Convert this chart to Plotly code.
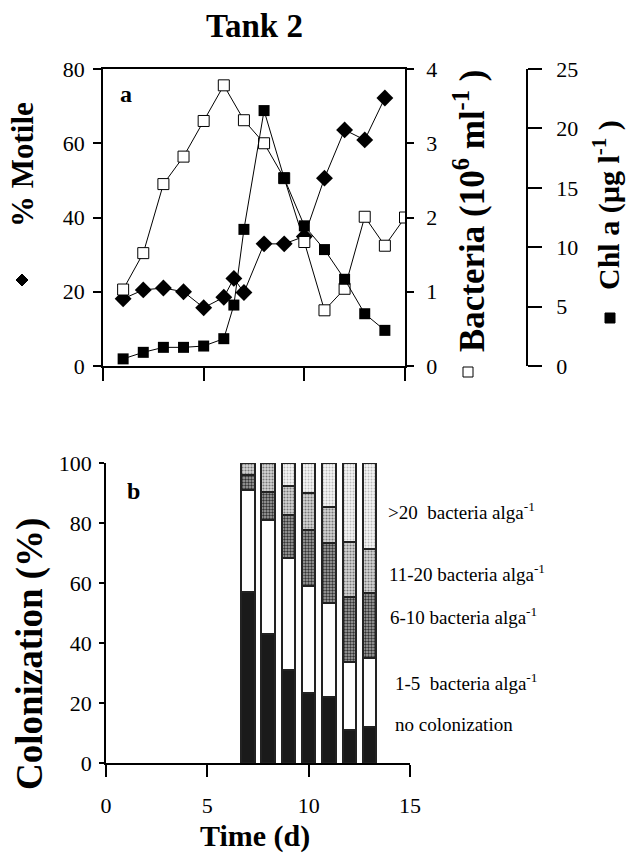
import plotly.graph_objects as go

W, H = 626, 854

# ---------------- data: panel a ----------------
days_motile = [1, 2, 3, 4, 5, 6, 6.5, 7, 8, 9, 10, 11, 12, 13, 14]
motile = [18.1, 20.5, 21.0, 20.0, 15.7, 18.5, 23.6, 19.8, 32.9, 32.9, 34.9, 50.6, 63.6, 60.9, 72.2]

days_bact = [1, 2, 3, 4, 5, 6, 7, 8, 9, 10, 11, 12, 13, 14, 15]
bacteria = [1.03, 1.52, 2.45, 2.82, 3.30, 3.78, 3.31, 3.00, 2.53, 1.67, 0.75, 1.04, 2.01, 1.62, 2.00]

days_chl = [1, 2, 3, 4, 5, 6, 6.5, 7, 8, 9, 10, 11, 12, 13, 14]
chl = [0.6, 1.15, 1.57, 1.57, 1.68, 2.3, 5.13, 11.5, 21.5, 15.8, 11.8, 9.8, 7.3, 4.4, 3.0]

# ---------------- data: panel b ----------------
col_days = [7, 8, 9, 10, 11, 12, 13]
no_col = [57, 43, 31, 23.5, 22, 11, 12]
b1_5 = [34, 38, 37.5, 35.5, 31.4, 22.8, 23]
b6_10 = [5, 9.4, 14.2, 18.7, 19.8, 21.6, 21.6]
b11_20 = [4, 9.6, 9.5, 12.2, 12, 18.4, 14.6]
b20 = [0, 0, 7.8, 10.1, 14.8, 26.2, 28.8]

motile_ticks = [0, 20, 40, 60, 80]
bact_ticks = [0, 1, 2, 3, 4]
chl_ticks = [0, 5, 10, 15, 20, 25]
col_ticks = [0, 20, 40, 60, 80, 100]
time_ticks = [0, 5, 10, 15]

FONT = "Liberation Serif"


def px(x):
    return x / W


def py(y):
    return 1 - y / H


fig = go.Figure()

# panel a traces
fig.add_trace(go.Scatter(x=days_motile, y=motile, mode="lines+markers",
                         line=dict(color="black", width=1),
                         marker=dict(symbol="diamond", size=13, color="black"),
                         xaxis="x", yaxis="y", showlegend=False))
fig.add_trace(go.Scatter(x=days_bact, y=bacteria, mode="lines+markers",
                         line=dict(color="black", width=1),
                         marker=dict(symbol="square", size=11, color="white",
                                     line=dict(color="black", width=1)),
                         xaxis="x", yaxis="y2", showlegend=False))
fig.add_trace(go.Scatter(x=days_chl, y=chl, mode="lines+markers",
                         line=dict(color="black", width=1),
                         marker=dict(symbol="square", size=11, color="black"),
                         xaxis="x", yaxis="y3", showlegend=False))

# panel b traces
bar_specs = [
    ("no colonization", no_col, dict(color="#1a1a1a")),
    ("1-5", b1_5, dict(color="white")),
    ("6-10", b6_10, dict(color="#9a9a9a",
                         pattern=dict(shape=".", fgcolor="#333333", bgcolor="#aaaaaa",
                                      size=3, solidity=0.5))),
    ("11-20", b11_20, dict(color="#c8c8c8",
                           pattern=dict(shape=".", fgcolor="#777777", bgcolor="#d6d6d6",
                                        size=3, solidity=0.4))),
    (">20", b20, dict(color="#eeeeee",
                      pattern=dict(shape=".", fgcolor="#bbbbbb", bgcolor="#f6f6f6",
                                   size=3, solidity=0.35))),
]
for name, vals, mk in bar_specs:
    mk = dict(mk)
    mk["line"] = dict(color="#222222", width=2)
    fig.add_trace(go.Bar(x=col_days, y=vals, name=name, width=0.66, marker=mk,
                         xaxis="x2", yaxis="y4", showlegend=False))

tickfont = dict(family=FONT, size=22, color="black")
axis_common = dict(showgrid=False, zeroline=False, showline=True, linecolor="black",
                   linewidth=1.5, ticks="outside", tickcolor="black", tickwidth=1.5,
                   tickfont=tickfont, automargin=False)

fig.update_layout(
    template="none",
    width=W, height=H,
    margin=dict(l=0, r=0, t=0, b=0, pad=0, autoexpand=False),
    paper_bgcolor="white", plot_bgcolor="white",
    barmode="stack", bargap=0,
    xaxis=dict(domain=[px(103), px(405)], range=[0, 15], tickvals=time_ticks,
               showticklabels=False, ticklen=13, mirror=True, anchor="y", **axis_common),
    yaxis=dict(domain=[py(366), py(69)], range=[0, 80], tickvals=motile_ticks,
               ticklen=8, ticklabelstandoff=4, anchor="x", **axis_common),
    yaxis2=dict(range=[0, 4], tickvals=bact_ticks, overlaying="y", side="right",
                anchor="x", ticklen=7, ticklabelstandoff=8, **axis_common),
    yaxis3=dict(range=[0, 25], tickvals=chl_ticks, overlaying="y", side="right",
                anchor="free", position=px(527), ticklen=14, ticklabelstandoff=10,
                **axis_common),
    xaxis2=dict(domain=[px(106), px(410)], range=[0, 15], tickvals=time_ticks,
                ticklen=12, ticklabelstandoff=10, anchor="y4", **axis_common),
    yaxis4=dict(domain=[py(763), py(463)], range=[0, 100], tickvals=col_ticks,
                ticklen=5, ticklabelstandoff=3, anchor="x2", **axis_common),
)


def ann(text, x, y, size, bold=False, angle=0, xanchor="center"):
    if bold:
        text = "<b>" + text + "</b>"
    fig.add_annotation(text=text, x=px(x), y=py(y), xref="paper", yref="paper",
                       showarrow=False, textangle=angle, xanchor=xanchor, yanchor="middle",
                       font=dict(family=FONT, size=size, color="black"))


NB = "\u00a0"
ann("Tank 2", 254, 26, 33, bold=True)
ann("a", 126, 94, 24, bold=True)
ann("b", 133, 491, 24, bold=True)
ann("% Motile", 22, 165, 31, bold=True, angle=-90)
ann("Bacteria (10<sup>6</sup> ml<sup>-1</sup> )", 470, 211, 35, bold=True, angle=-90)
ann("Chl a (µg l<sup>-1</sup> )", 607, 205, 30, bold=True, angle=-90)
ann("Colonization (%)", 30, 654, 37, bold=True, angle=-90)
ann("Time (d)", 255, 836, 30, bold=True)

ann(">20" + NB + NB + "bacteria alga<sup>-1</sup>", 386, 511, 19, xanchor="left")
ann("11-20 bacteria alga<sup>-1</sup>", 387, 573, 19, xanchor="left")
ann("6-10 bacteria alga<sup>-1</sup>", 388, 616, 19, xanchor="left")
ann("1-5" + NB + NB + "bacteria alga<sup>-1</sup>", 393, 682, 19, xanchor="left")
ann("no colonization", 393, 724, 19, xanchor="left")

# legend symbols next to axis titles
d = 6
fig.add_shape(type="path", xref="paper", yref="paper",
              path=f"M {px(22)} {py(280 - d)} L {px(22 + d)} {py(280)} L {px(22)} {py(280 + d)} L {px(22 - d)} {py(280)} Z",
              fillcolor="black", line=dict(color="black", width=1))
s = 5
fig.add_shape(type="rect", xref="paper", yref="paper",
              x0=px(468 - s), x1=px(468 + s), y0=py(372 + s), y1=py(372 - s),
              fillcolor="white", line=dict(color="black", width=1))
fig.add_shape(type="rect", xref="paper", yref="paper",
              x0=px(610 - s), x1=px(610 + s), y0=py(318 + s), y1=py(318 - s),
              fillcolor="black", line=dict(color="black", width=1))

fig.write_html("out.html")
